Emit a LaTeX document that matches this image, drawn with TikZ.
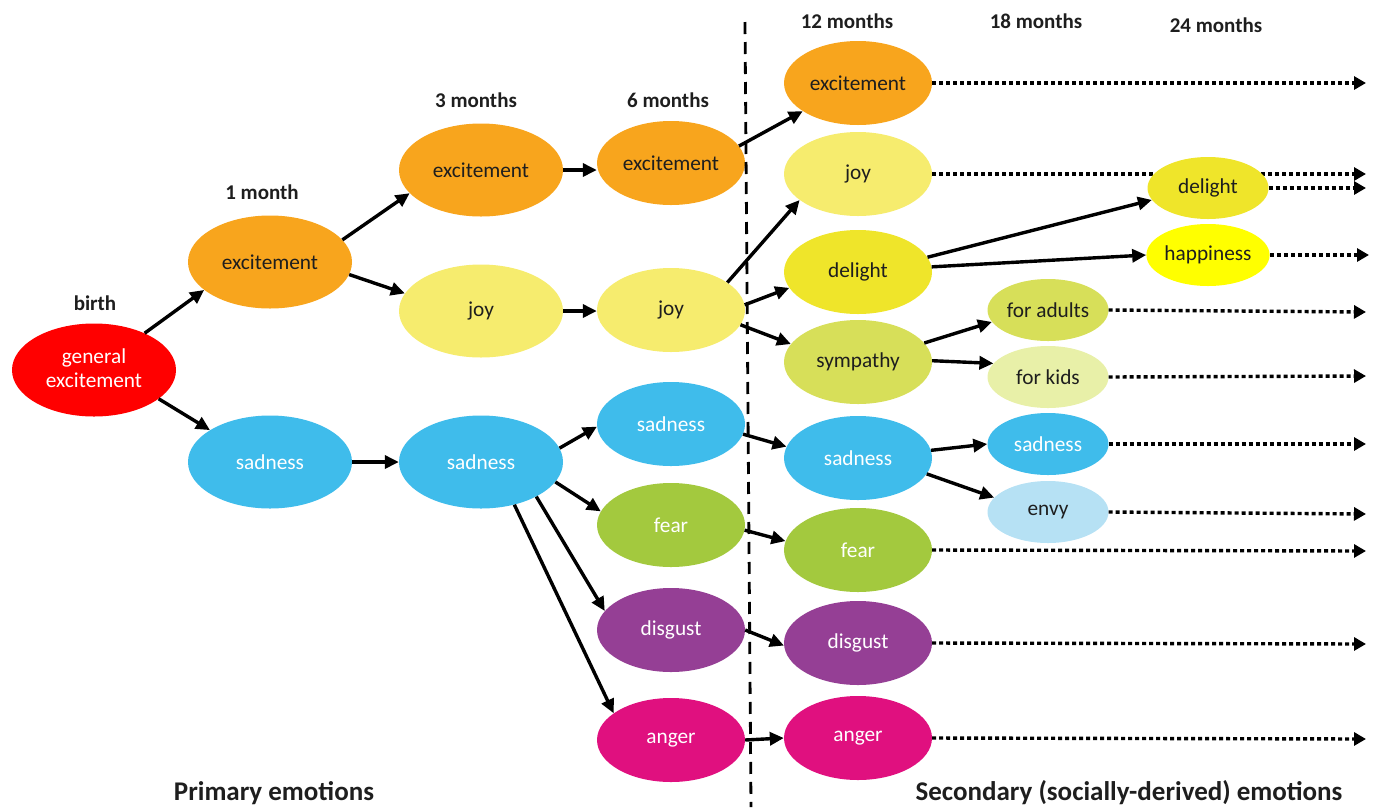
\documentclass[tikz,border=0pt]{standalone}
\usepackage{fontspec}
\setmainfont{Carlito}
\usetikzlibrary{shapes.geometric,arrows.meta}
\pgfdeclarelayer{bg}
\pgfsetlayers{bg,main}
\definecolor{cRed}{HTML}{FF0000}
\definecolor{cOrange}{HTML}{F8A51D}
\definecolor{cJoy}{HTML}{F6EC6E}
\definecolor{cDelight}{HTML}{EFE52A}
\definecolor{cHappy}{HTML}{FFFF00}
\definecolor{cSym}{HTML}{D7DF59}
\definecolor{cKids}{HTML}{E8F0A8}
\definecolor{cBlue}{HTML}{3FBCEB}
\definecolor{cEnvy}{HTML}{B6E1F4}
\definecolor{cFear}{HTML}{A3C93E}
\definecolor{cPurple}{HTML}{953F95}
\definecolor{cMagenta}{HTML}{E0107F}
\definecolor{cText}{HTML}{1E1E1E}
\begin{document}
\begin{tikzpicture}[x=1pt,y=-1pt,
  emo/.style={ellipse,inner sep=0pt,text=cText,font=\fontsize{21.3}{25}\selectfont,align=center},
  big/.style={emo,minimum width=164pt,minimum height=93pt},
  mid/.style={emo,minimum width=148pt,minimum height=84pt},
  small/.style={emo,minimum width=121pt,minimum height=62pt},
  wtext/.style={text=white},
  head/.style={font=\fontsize{21}{24}\selectfont\bfseries,text=cText},
  foot/.style={font=\fontsize{27}{30}\selectfont\bfseries,text=cText},
  arr/.style={line width=3.4pt,-{Triangle[length=14pt,width=13pt]}},
  dotarr/.style={line width=3.4pt,dash pattern=on 4pt off 3pt,-{Triangle[length=12pt,width=13pt]}},
]
\useasboundingbox (0,0) rectangle (1378,807);

% headers
\node[head] (hbirth) at (95,303) {birth};
\node[head] (h1) at (262,192) {1 month};
\node[head] (h3) at (476,100) {3 months};
\node[head] (h6) at (668,100) {6 months};
\node[head] (h12) at (847,21) {12 months};
\node[head] (h18) at (1036,21) {18 months};
\node[head] (h24) at (1216,25) {24 months};
\node[foot] (fprim) at (274,793) {Primary emotions};
\node[foot] (fsec) at (1129,793) {Secondary (socially-derived) emotions};

% birth
\node[big,fill=cRed,wtext] (gen) at (94,370) {\raisebox{4pt}{\begin{tabular}{@{}c@{}}general\\[-1pt]excitement\end{tabular}}};
% 1 month
\node[big,fill=cOrange] (exc1) at (270,262) {excitement};
\node[big,fill=cBlue,wtext] (sad1) at (270,462) {sadness};
% 3 months
\node[big,fill=cOrange] (exc3) at (481,170) {excitement};
\node[big,fill=cJoy] (joy3) at (481,311) {joy};
\node[big,fill=cBlue,wtext] (sad3) at (481,462) {sadness};
% 6 months
\node[mid,fill=cOrange] (exc6) at (671,163) {excitement};
\node[mid,fill=cJoy] (joy6) at (671,310) {joy};
\node[mid,fill=cBlue,wtext] (sad6) at (671,424) {sadness};
\node[mid,fill=cFear,wtext] (fear6) at (671,525) {fear};
\node[mid,fill=cPurple,wtext] (dis6) at (671,630) {disgust};
\node[mid,fill=cMagenta,wtext] (ang6) at (671,740) {anger};
% 12 months
\node[mid,fill=cOrange] (exc12) at (858,83) {excitement};
\node[mid,fill=cJoy] (joy12) at (858,174) {joy};
\node[mid,fill=cDelight] (del12) at (858,272) {delight};
\node[mid,fill=cSym] (sym12) at (858,362) {sympathy};
\node[mid,fill=cBlue,wtext] (sad12) at (858,458) {sadness};
\node[mid,fill=cFear,wtext] (fear12) at (858,550) {fear};
\node[mid,fill=cPurple,wtext] (dis12) at (858,643) {disgust};
\node[mid,fill=cMagenta,wtext] (ang12) at (858,738) {anger};
% 18 months
\node[small,fill=cSym] (adults) at (1048,310) {for adults};
\node[small,fill=cKids] (kids) at (1048,377) {for kids};
\node[small,fill=cBlue,wtext] (sad18) at (1048,444) {sadness};
\node[small,fill=cEnvy] (envy) at (1048,512) {envy};
% 24 months
\node[small,fill=cDelight] (del24) at (1208,188) {delight};
\node[small,fill=cHappy] (happy) at (1208,255) {happiness};

% end points of the dotted continuations
\coordinate (e1) at (1366,83);
\coordinate (e2) at (1366,174);
\coordinate (e3) at (1366,188);
\coordinate (e4) at (1369,255);
\coordinate (e5) at (1366,312);
\coordinate (e6) at (1366,376);
\coordinate (e7) at (1366,444);
\coordinate (e8) at (1366,514);
\coordinate (e9) at (1366,551);
\coordinate (e10) at (1366,644);
\coordinate (e11) at (1366,739);
\coordinate (dtop) at (745,22);
\coordinate (dbot) at (751,807);

\begin{pgfonlayer}{bg}
\draw[dotarr] (exc12.east) -- (exc12.east -| e1);
\draw[dotarr] (joy12.east) -- (joy12.east -| e2);
\end{pgfonlayer}
\draw[dotarr] (del24.east) -- (del24.east -| e3);
\draw[dotarr] (happy.east) -- (happy.east -| e4);
\draw[dotarr] (adults.east) -- (e5);
\draw[dotarr] (kids.east) -- (e6);
\draw[dotarr] (sad18.east) -- (e7);
\draw[dotarr] (envy.east) -- (e8);
\draw[dotarr] (fear12.east) -- (e9);
\draw[dotarr] (dis12.east) -- (e10);
\draw[dotarr] (ang12.east) -- (e11);

% dashed divider
\draw[line width=2.8pt,dash pattern=on 12pt off 8pt] (dtop) -- (dbot);

% solid arrows
\draw[arr] (gen.36) -- (exc1.203);
\draw[arr] (gen.-24) -- (sad1.152);
\draw[arr] (exc1.17) -- (exc3.198);
\draw[arr] (exc1.-9) -- (joy3.167);
\draw[arr] (sad1.east) -- (sad3.west);
\draw[arr] (exc3.east) -- (exc3.east -| exc6.west);
\draw[arr] (joy3.east) -- (joy3.east -| joy6.west);
\draw[arr] (sad3.10) -- (sad6.182);
\draw[arr] (sad3.-15) -- (fear6.169);
\draw[arr] (sad3.-32) -- (dis6.164);
\draw[arr] (sad3.-52) -- (ang6.155);
\draw[arr] (exc6.14) -- (exc12.207);
\draw[arr] (joy6.26) -- (joy12.204);
\draw[arr] (joy6.4) -- (del12.193);
\draw[arr] (joy6.-12) -- (sym12.165);
\draw[arr] (sad6.-8) -- (sad12.171);
\draw[arr] (fear6.-4) -- (fear12.173);
\draw[arr] (dis6.east) -- (dis12.182);
\draw[arr] (ang6.east) -- (ang12.west);
\draw[arr] (del12.12) -- (del24.192);
\draw[arr] (del12.4) -- (happy.west);
\draw[arr] (sym12.16) -- (adults.192);
\draw[arr] (sym12.1) -- (kids.166);
\draw[arr] (sad12.6) -- (sad18.180);
\draw[arr] (sad12.-13) -- (envy.165);
\end{tikzpicture}
\end{document}
